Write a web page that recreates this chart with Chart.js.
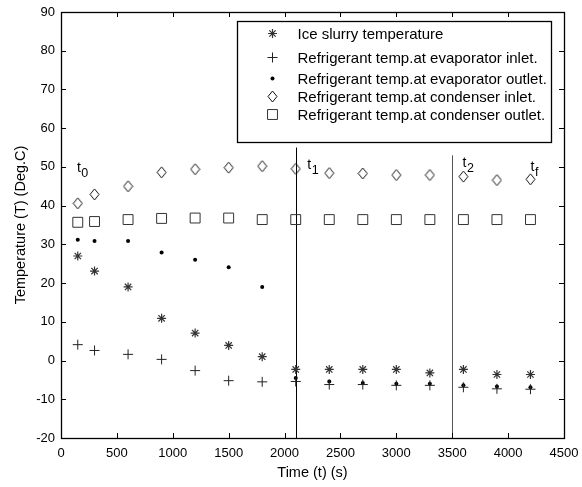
<!DOCTYPE html>
<html>
<head>
<meta charset="utf-8">
<script src="https://cdn.jsdelivr.net/npm/chart.js@4/dist/chart.umd.min.js"></script>
<style>
  html, body { margin: 0; padding: 0; background: #fff; }
  #wrap { width: 582px; height: 487px; }
</style>
</head>
<body>
<div id="wrap"><canvas id="chart" width="582" height="487"></canvas></div>
<script>
// time samples (s)
const time = [150, 300, 600, 900, 1200, 1500, 1800, 2100, 2400, 2700, 3000, 3300, 3600, 3900, 4200];

// temperatures (Deg.C)
const iceSlurry = [27.0, 23.1, 19.0, 10.9, 7.1, 3.9, 1.0, -2.3, -2.3, -2.3, -2.3, -3.2, -2.3, -3.6, -3.6];
const evapInlet = [4.1, 2.6, 1.6, 0.3, -2.6, -5.2, -5.5, -5.4, -6.2, -6.2, -6.4, -6.4, -6.9, -7.3, -7.4];
const evapOutlet = [31.2, 30.9, 30.9, 27.9, 26.0, 24.1, 19.0, -4.5, -5.4, -5.8, -6.0, -6.0, -6.4, -6.7, -6.9];
const condInlet = [40.6, 42.9, 45.0, 48.6, 49.4, 49.8, 50.2, 49.5, 48.4, 48.3, 47.9, 47.9, 47.5, 46.6, 46.8];
const condOutlet = [35.7, 35.9, 36.4, 36.7, 36.8, 36.8, 36.4, 36.4, 36.4, 36.4, 36.4, 36.4, 36.4, 36.4, 36.4];

const seriesNames = [
  'Ice slurry temperature',
  'Refrigerant temp.at evaporator inlet.',
  'Refrigerant temp.at evaporator outlet.',
  'Refrigerant temp.at condenser inlet.',
  'Refrigerant temp.at condenser outlet.',
];

// phase markers
const phaseLineX = [2100, 3500];
const phaseLineTop = [55, 53];
const phaseLabels = ['0', '1', '2', 'f'];
const phaseLabelX = [143, 2203, 3593, 4201];
const phaseLabelY = [48.8, 49.5, 50, 49];

const FONT = '"Liberation Sans", Arial, Helvetica, sans-serif';

function makeDiamond(w, h) {
  const c = document.createElement('canvas');
  c.width = w + 2;
  c.height = h + 2;
  const g = c.getContext('2d');
  g.strokeStyle = '#111';
  g.lineWidth = 1;
  g.beginPath();
  g.moveTo(1 + w / 2, 1);
  g.lineTo(1 + w, 1 + h / 2);
  g.lineTo(1 + w / 2, 1 + h);
  g.lineTo(1, 1 + h / 2);
  g.closePath();
  g.stroke();
  return c;
}
const diamond = makeDiamond(9, 11);

const pts = (ys) => time.map((t, i) => ({ x: t, y: ys[i] }));

const styles = [
  { pointStyle: 'star', radius: 4.5, borderColor: '#333', backgroundColor: '#333', borderWidth: 1.2 },
  { pointStyle: 'cross', radius: 5, borderColor: '#222', backgroundColor: '#222', borderWidth: 1 },
  { pointStyle: 'circle', radius: 2, borderColor: '#000', backgroundColor: '#000', borderWidth: 0 },
  { pointStyle: diamond, radius: 5, borderColor: '#111', backgroundColor: 'transparent', borderWidth: 1 },
  { pointStyle: 'rect', radius: 7, borderColor: '#333', backgroundColor: 'transparent', borderWidth: 1 },
];

const datasets = [iceSlurry, evapInlet, evapOutlet, condInlet, condOutlet].map((ys, i) => ({
  label: seriesNames[i],
  data: pts(ys),
  showLine: false,
  pointStyle: styles[i].pointStyle,
  pointRadius: styles[i].radius,
  pointHoverRadius: styles[i].radius,
  pointBorderColor: styles[i].borderColor,
  pointBackgroundColor: styles[i].backgroundColor,
  pointBorderWidth: styles[i].borderWidth,
}));

const frame = {
  id: 'frame',
  beforeDatasetsDraw(chart) {
    const { ctx, chartArea: a, scales: { x, y } } = chart;
    ctx.save();
    // phase lines
    ctx.lineWidth = 1;
    phaseLineX.forEach((v, i) => {
      ctx.strokeStyle = i === 0 ? '#000' : '#555';
      const px = Math.round(x.getPixelForValue(v)) + 0.5;
      ctx.beginPath();
      ctx.moveTo(px, y.getPixelForValue(phaseLineTop[i]));
      ctx.lineTo(px, a.bottom);
      ctx.stroke();
    });
    // box and inward ticks
    ctx.strokeStyle = '#000';
    ctx.lineWidth = 1;
    ctx.beginPath();
    x.ticks.forEach((t) => {
      const px = Math.round(x.getPixelForValue(t.value)) + 0.5;
      ctx.moveTo(px, a.bottom); ctx.lineTo(px, a.bottom - 5);
      ctx.moveTo(px, a.top); ctx.lineTo(px, a.top + 5);
    });
    y.ticks.forEach((t) => {
      const py = Math.round(y.getPixelForValue(t.value)) + 0.5;
      ctx.moveTo(a.left, py); ctx.lineTo(a.left + 5, py);
      ctx.moveTo(a.right, py); ctx.lineTo(a.right - 5, py);
    });
    ctx.stroke();
    ctx.lineWidth = 1.3;
    ctx.strokeRect(Math.round(a.left) + 0.5, Math.round(a.top) + 0.5,
      Math.round(a.right - a.left), Math.round(a.bottom - a.top));
    // t labels
    ctx.fillStyle = '#000';
    ctx.textBaseline = 'alphabetic';
    ctx.textAlign = 'left';
    phaseLabels.forEach((s, i) => {
      const px = x.getPixelForValue(phaseLabelX[i]);
      const py = y.getPixelForValue(phaseLabelY[i]);
      ctx.font = '14px ' + FONT;
      ctx.fillText('t', px, py);
      const w = ctx.measureText('t').width;
      ctx.font = '12.5px ' + FONT;
      ctx.fillText(s, px + w + 0.5, py + 5.5);
    });
    ctx.restore();
  },
  afterDatasetsDraw(chart) {
    const { ctx } = chart;
    const box = { left: 237.5, top: 21.5, width: 314, height: 121 };
    const rowY = [35, 59, 80, 98, 116];
    ctx.save();
    ctx.fillStyle = '#fff';
    ctx.fillRect(box.left, box.top, box.width, box.height);
    ctx.strokeStyle = '#000';
    ctx.lineWidth = 1.3;
    ctx.strokeRect(box.left, box.top, box.width, box.height);
    datasets.forEach((d, i) => {
      const s = styles[i];
      ctx.strokeStyle = s.borderColor;
      ctx.fillStyle = s.backgroundColor;
      ctx.lineWidth = s.borderWidth;
      const sy = rowY[i] - 1.5;
      if (typeof s.pointStyle === 'string') {
        Chart.helpers.drawPoint(ctx, {
          pointStyle: s.pointStyle, radius: s.radius, rotation: 0,
          borderWidth: s.borderWidth,
        }, 272.5, sy);
      } else {
        ctx.drawImage(s.pointStyle, 272.5 - s.pointStyle.width / 2, sy - s.pointStyle.height / 2);
      }
      ctx.fillStyle = '#000';
      ctx.font = '15px ' + FONT;
      ctx.textBaseline = 'middle';
      ctx.textAlign = 'left';
      ctx.fillText(d.label, 297.5, rowY[i]);
    });
    ctx.restore();
  },
};

new Chart(document.getElementById('chart'), {
  type: 'scatter',
  data: { datasets },
  plugins: [frame],
  options: {
    responsive: false,
    animation: false,
    layout: { padding: { top: 12, right: 18, left: 0, bottom: 0 } },
    plugins: { legend: { display: false }, tooltip: { enabled: false } },
    scales: {
      x: {
        type: 'linear', min: 0, max: 4500,
        afterFit(s) { s.height = 49; s.paddingRight = 0; s.paddingLeft = 0; },
        grid: { display: false, drawTicks: false },
        border: { display: false },
        ticks: { stepSize: 500, color: '#000', padding: 8, maxRotation: 0,
          callback: (v) => String(v),
          font: { family: FONT, size: 13 } },
        title: { display: true, text: 'Time (t) (s)', color: '#000',
          font: { family: FONT, size: 14.5 }, padding: { top: 0, bottom: 5 } },
      },
      y: {
        type: 'linear', min: -20, max: 90,
        afterFit(s) { s.width = 61; s.paddingTop = 0; s.paddingBottom = 0; },
        grid: { display: false, drawTicks: false },
        border: { display: false },
        ticks: { stepSize: 10, color: '#000', padding: 6,
          font: { family: FONT, size: 13 } },
        title: { display: true, text: 'Temperature (T) (Deg.C)', color: '#000',
          font: { family: FONT, size: 14.5 }, padding: { top: 12, bottom: 0 } },
      },
    },
  },
});
</script>
</body>
</html>
